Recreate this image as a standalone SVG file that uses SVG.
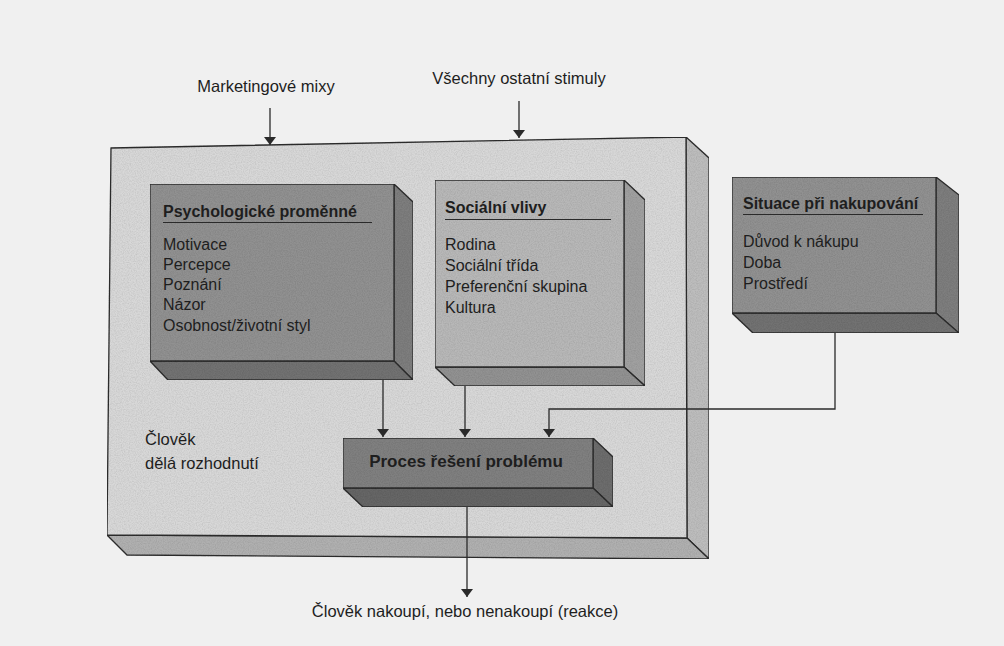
<svg xmlns="http://www.w3.org/2000/svg" width="1004" height="646" viewBox="0 0 1004 646">
  <defs>
    <marker id="arr" viewBox="0 0 8 14" refX="8" refY="7" markerWidth="8" markerHeight="14" markerUnits="userSpaceOnUse" orient="auto">
      <path d="M0,1 L8,7 L0,13 Z" fill="#2a2a2a"/>
    </marker>
    <filter id="grain" x="0" y="0" width="100%" height="100%">
      <feTurbulence type="fractalNoise" baseFrequency="0.85" numOctaves="2" seed="3" result="noise"/>
      <feColorMatrix in="noise" type="matrix" values="0 0 0 0 0  0 0 0 0 0  0 0 0 0 0  0 0 0 0.35 -0.12" result="dark"/>
      <feComposite in="dark" in2="SourceAlpha" operator="in" result="darkin"/>
      <feMerge><feMergeNode in="SourceGraphic"/><feMergeNode in="darkin"/></feMerge>
    </filter>
  </defs>
  <style>
    .edge { stroke: #2e2e2e; stroke-width: 1.3; stroke-linejoin: round; }
    .big-front { fill: #d8d8d8; }
    .big-side { fill: #bdbdbd; }
    .big-bottom { fill: #b0b0b0; }
    .dk-front { fill: #919191; }
    .dk-side { fill: #7e7e7e; }
    .dk-bottom { fill: #727272; }
    .lt-front { fill: #b8b8b8; }
    .lt-side { fill: #a0a0a0; }
    .lt-bottom { fill: #929292; }
    .pr-front { fill: #808080; }
    .pr-side { fill: #6d6d6d; }
    .pr-bottom { fill: #666666; }
    text { font-family: "Liberation Sans", Arial, sans-serif; fill: #1e1e1e; }
    .lbl { font-size: 16.5px; }
    .item { font-size: 16px; }
    .title { font-size: 16px; font-weight: bold; }
    .rule { stroke: #2a2a2a; stroke-width: 1.2; }
    .conn { fill: none; stroke: #2a2a2a; stroke-width: 1.3; }
  </style>
  <rect x="0" y="0" width="1004" height="646" fill="#f0f0f0"/>

  <g id="decision-box" filter="url(#grain)">
    <polygon class="big-side edge" points="686,137 709,158 709,559 687,538"/>
    <polygon class="big-bottom edge" points="107,535 687,538 709,559 127,555"/>
    <polygon class="big-front edge" points="111,148 686,137 687,538 107,535"/>
  </g>
  <g id="decision-label">
    <text class="lbl" x="145" y="445">Člověk</text>
    <text class="lbl" x="145" y="469">dělá rozhodnutí</text>
  </g>

  <g id="psych" filter="url(#grain)">
    <polygon class="dk-side edge" points="394,184 413,202 413,380 394,361"/>
    <polygon class="dk-bottom edge" points="150,361 394,361 413,380 168,380"/>
    <rect class="dk-front edge" x="150" y="184" width="244" height="177"/>
  </g>
  <g id="psych-text">
    <text class="title" x="163" y="217">Psychologické proměnné</text>
    <line class="rule" x1="163" y1="222.5" x2="372" y2="222.5"/>
    <text class="item" x="163" y="250">Motivace</text>
    <text class="item" x="163" y="270">Percepce</text>
    <text class="item" x="163" y="290">Poznání</text>
    <text class="item" x="163" y="310">Názor</text>
    <text class="item" x="163" y="331">Osobnost/životní styl</text>
  </g>

  <g id="social" filter="url(#grain)">
    <polygon class="lt-side edge" points="624,180 645,200 645,386 624,367"/>
    <polygon class="lt-bottom edge" points="435,367 624,367 645,386 455,386"/>
    <rect class="lt-front edge" x="435" y="180" width="189" height="187"/>
  </g>
  <g id="social-text">
    <text class="title" x="445" y="213">Sociální vlivy</text>
    <line class="rule" x1="445" y1="219.5" x2="611" y2="219.5"/>
    <text class="item" x="445" y="250">Rodina</text>
    <text class="item" x="445" y="271">Sociální třída</text>
    <text class="item" x="445" y="292">Preferenční skupina</text>
    <text class="item" x="445" y="313">Kultura</text>
  </g>

  <g id="situation" filter="url(#grain)">
    <polygon class="dk-side edge" points="936,177 959,195 959,333 936,313"/>
    <polygon class="dk-bottom edge" points="732,313 936,313 959,333 753,333"/>
    <rect class="dk-front edge" x="732" y="177" width="204" height="136"/>
  </g>
  <g id="situation-text">
    <text class="title" x="743" y="209">Situace při nakupování</text>
    <line class="rule" x1="743" y1="214.5" x2="923" y2="214.5"/>
    <text class="item" x="743" y="247">Důvod k nákupu</text>
    <text class="item" x="743" y="268">Doba</text>
    <text class="item" x="743" y="289">Prostředí</text>
  </g>

  <g id="process" filter="url(#grain)">
    <polygon class="pr-side edge" points="593,438 613,457 613,507 593,488"/>
    <polygon class="pr-bottom edge" points="343,488 593,488 613,507 363,507"/>
    <rect class="pr-front edge" x="343" y="438" width="250" height="50"/>
  </g>
  <g id="process-text">
    <text class="title" x="466" y="467" text-anchor="middle" style="font-size:17px">Proces řešení problému</text>
  </g>

  <g id="external-labels">
    <text class="lbl" x="266" y="92" text-anchor="middle">Marketingové mixy</text>
    <text class="lbl" x="519" y="84" text-anchor="middle">Všechny ostatní stimuly</text>
    <text class="lbl" x="465" y="617" text-anchor="middle">Člověk nakoupí, nebo nenakoupí (reakce)</text>
  </g>

  <g id="connectors">
    <line class="conn" x1="270" y1="108" x2="270" y2="145" marker-end="url(#arr)"/>
    <line class="conn" x1="519" y1="101" x2="519" y2="138" marker-end="url(#arr)"/>
    <line class="conn" x1="383" y1="380" x2="383" y2="437" marker-end="url(#arr)"/>
    <line class="conn" x1="465" y1="386" x2="465" y2="437" marker-end="url(#arr)"/>
    <path class="conn" d="M835,333 V409 H549 V437" marker-end="url(#arr)"/>
    <line class="conn" x1="467" y1="507" x2="467" y2="597" marker-end="url(#arr)"/>
  </g>
</svg>
